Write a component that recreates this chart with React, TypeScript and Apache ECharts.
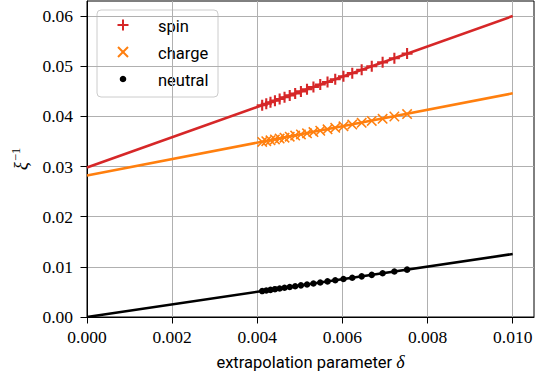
import React, { useEffect, useRef } from "react";
import * as echarts from "echarts";

// extrapolation parameter delta (shared x values of the markers)
const deltaValues = [
  0.007519, 0.00722, 0.006944, 0.006689, 0.006452, 0.006231, 0.006024,
  0.005831, 0.00565, 0.005479, 0.005319, 0.005168, 0.005025, 0.00489,
  0.004762, 0.00464, 0.004525, 0.004415, 0.00431, 0.004211, 0.004115,
];
const spinValues = [
  0.05251, 0.0516, 0.05077, 0.05, 0.04929, 0.04862, 0.04799, 0.04741,
  0.04686, 0.04635, 0.04586, 0.04541, 0.04498, 0.04457, 0.04418, 0.04381,
  0.04347, 0.04313, 0.04282, 0.04252, 0.04223,
];
const chargeValues = [
  0.04046, 0.03997, 0.03952, 0.0391, 0.03872, 0.03836, 0.03802, 0.03771,
  0.03741, 0.03713, 0.03687, 0.03662, 0.03639, 0.03617, 0.03596, 0.03576,
  0.03558, 0.0354, 0.03523, 0.03506, 0.03491,
];
const neutralValues = [
  0.009444, 0.009068, 0.008722, 0.008401, 0.008104, 0.007826, 0.007566,
  0.007324, 0.007096, 0.006882, 0.006681, 0.006491, 0.006311, 0.006142,
  0.005981, 0.005828, 0.005683, 0.005545, 0.005413, 0.005289, 0.005168,
];
// linear fits: [delta, value] end points
const fitX = [0, 0.01];
const spinFit = [0.0298, 0.06];
const chargeFit = [0.0282, 0.0446];
const neutralFit = [0, 0.01256];

const xTicks = [0, 0.002, 0.004, 0.006, 0.008, 0.01];
const yTicks = [0, 0.01, 0.02, 0.03, 0.04, 0.05, 0.06];

const RED = "#d62728";
const ORANGE = "#ff7f0e";
const BLACK = "#000000";

const PLUS = "path://M-1.9,-10 H1.9 V-1.9 H10 V1.9 H1.9 V10 H-1.9 V1.9 H-10 V-1.9 H-1.9 Z";
const CROSS =
  "path://M-7.9,-10 L0,-2.1 L7.9,-10 L10,-7.9 L2.1,0 L10,7.9 L7.9,10 L0,2.1 L-7.9,10 L-10,7.9 L-2.1,0 L-10,-7.9 Z";

const SERIF = "'Liberation Serif', serif";
const SANS = "Roboto, 'DejaVu Sans', sans-serif";

function zip(xs: number[], ys: number[]) {
  return xs.map((x, i) => [x, ys[i]]);
}

export default function App() {
  const ref = useRef<HTMLDivElement>(null);
  useEffect(() => {
    if (!ref.current) return;
    const chart = echarts.init(ref.current, null, { renderer: "svg" });
    const lineSeries = (data: number[][], color: string) => ({
      type: "line",
      data,
      showSymbol: false,
      symbol: "none",
      lineStyle: { color, width: 2.6 },
      z: 2,
      silent: true,
    });
    const scatterSeries = (name: string, data: number[][], symbol: string, size: number, color: string) => ({
      type: "scatter",
      name,
      data,
      symbol,
      symbolSize: size,
      itemStyle: { color, opacity: 1 },
      z: 3,
    });
    const legendRows = [
      { label: "spin", y: 25, kind: "plus", color: RED },
      { label: "charge", y: 52, kind: "cross", color: ORANGE },
      { label: "neutral", y: 79, kind: "dot", color: BLACK },
    ];
    const legendChildren: any[] = [
      {
        type: "rect",
        shape: { x: 97, y: 10, width: 121, height: 87, r: 4 },
        style: { fill: "rgba(255,255,255,0.8)", stroke: "#cccccc", lineWidth: 1 },
      },
    ];
    legendRows.forEach((r) => {
      const cx = 123;
      const cy = r.y;
      if (r.kind === "plus") {
        legendChildren.push(
          { type: "line", shape: { x1: cx - 5.5, y1: cy, x2: cx + 5.5, y2: cy }, style: { stroke: r.color, lineWidth: 2 } },
          { type: "line", shape: { x1: cx, y1: cy - 5.5, x2: cx, y2: cy + 5.5 }, style: { stroke: r.color, lineWidth: 2 } }
        );
      } else if (r.kind === "cross") {
        legendChildren.push(
          { type: "line", shape: { x1: cx - 5, y1: cy - 5, x2: cx + 5, y2: cy + 5 }, style: { stroke: r.color, lineWidth: 2 } },
          { type: "line", shape: { x1: cx - 5, y1: cy + 5, x2: cx + 5, y2: cy - 5 }, style: { stroke: r.color, lineWidth: 2 } }
        );
      } else {
        legendChildren.push({ type: "circle", shape: { cx, cy, r: 3.3 }, style: { fill: r.color } });
      }
      legendChildren.push({
        type: "text",
        x: 158,
        y: r.y + 1,
        style: {
          text: r.label,
          fill: "#000",
          font: `16.5px ${SANS}`,
          textVerticalAlign: "middle",
          verticalAlign: "middle",
        },
      });
    });

    chart.setOption({
      animation: false,
      backgroundColor: "#ffffff",
      grid: {
        left: 87,
        top: 1,
        right: 18,
        bottom: 62,
        show: true,
        borderColor: "#000",
        borderWidth: 1,
        backgroundColor: "transparent",
      },
      xAxis: {
        type: "value",
        min: 0,
        max: 0.0105,
        interval: 0.002,
        name: "extrapolation parameter {d|δ}",
        nameLocation: "middle",
        nameGap: 36,
        nameTextStyle: {
          fontFamily: SANS,
          fontSize: 16.5,
          color: "#000",
          rich: {
            d: { fontFamily: SERIF, fontStyle: "italic", fontSize: 18, color: "#000" },
          },
        },
        axisLine: { show: true, onZero: false, lineStyle: { color: "#000", width: 1 } },
        axisTick: { show: true, inside: false, length: 6.5, customValues: xTicks, lineStyle: { color: "#000", width: 1 } },
        axisLabel: {
          customValues: xTicks,
          margin: 11,
          fontFamily: SERIF,
          fontSize: 17.5,
          color: "#000",
          formatter: (v: number) => v.toFixed(3),
        },
        splitLine: { show: true, lineStyle: { color: "#b0b0b0", width: 1 } },
      },
      yAxis: {
        type: "value",
        min: 0,
        max: 0.063,
        interval: 0.01,
        name: "{a|ξ}{b|−1}",
        nameLocation: "middle",
        nameRotate: 90,
        nameGap: 56,
        nameTextStyle: {
          color: "#000",
          rich: {
            a: { fontFamily: SERIF, fontStyle: "italic", fontSize: 19, color: "#000" },
            b: { fontFamily: SERIF, fontSize: 12.5, color: "#000", padding: [0, 0, 9, 1] },
          },
        },
        axisLine: { show: true, onZero: false, lineStyle: { color: "#000", width: 1 } },
        axisTick: { show: true, inside: false, length: 6.5, customValues: yTicks, lineStyle: { color: "#000", width: 1 } },
        axisLabel: {
          customValues: yTicks,
          margin: 14,
          fontFamily: SERIF,
          fontSize: 17.5,
          color: "#000",
          formatter: (v: number) => v.toFixed(2),
        },
        splitLine: { show: true, lineStyle: { color: "#b0b0b0", width: 1 } },
      },
      series: [
        lineSeries(zip(fitX, spinFit), RED),
        lineSeries(zip(fitX, chargeFit), ORANGE),
        lineSeries(zip(fitX, neutralFit), BLACK),
        scatterSeries("spin", zip(deltaValues, spinValues), PLUS, 11, RED),
        scatterSeries("charge", zip(deltaValues, chargeValues), CROSS, 10.5, ORANGE),
        scatterSeries("neutral", zip(deltaValues, neutralValues), "circle", 6.5, BLACK),
      ],
      graphic: [{ type: "group", z: 100, children: legendChildren }],
    });
    return () => chart.dispose();
  }, []);
  return (
    <div
      ref={ref}
      style={{ position: "fixed", left: 0, top: 0, width: 552, height: 379, background: "#fff" }}
    />
  );
}
